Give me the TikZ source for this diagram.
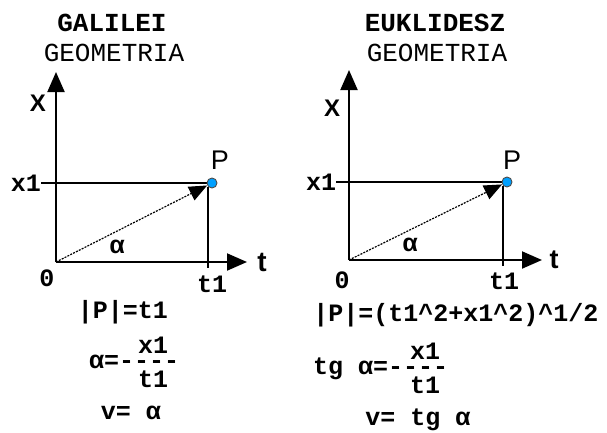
\documentclass[tikz,border=0pt]{standalone}
\usepackage{fontspec}
\setmainfont{Liberation Mono}
\newfontfamily\monof{Liberation Mono}
\newfontfamily\sansf{Liberation Sans}
\usetikzlibrary{arrows.meta,backgrounds}
\begin{document}
\begin{tikzpicture}[x=1pt,y=-1pt,
 title/.style={font=\monof\bfseries\fontsize{26}{26}\selectfont, inner sep=0pt},
 sub/.style={font=\monof\fontsize{26}{26}\selectfont, inner sep=0pt},
 lab/.style={font=\monof\bfseries\fontsize{25}{25}\selectfont, inner sep=0pt},
 bw/.style={lab, anchor=base west},
 axlab/.style={font=\sansf\bfseries\fontsize{24}{24}\selectfont, inner sep=0pt},
 plab/.style={font=\sansf\fontsize{27}{27}\selectfont, inner sep=0pt},
 axis/.style={line width=2pt, -{Triangle[length=20pt,width=17pt]}},
 guide/.style={line width=1.6pt},
 vec/.style={line width=1.2pt, dash pattern=on 2pt off 1.2pt, -{Triangle[length=18pt,width=15pt]}},
 ptdot/.style={circle, fill={rgb,255:red,0;green,160;blue,255}, draw=black!70, line width=0.9pt, minimum size=10pt, inner sep=0pt}
]
\useasboundingbox (0,0) rectangle (607,432);

% ---------------- left: Galilei ----------------
\node[title] (g1) at (112,23) {GALILEI};
\node[sub] (g2) at (114,53) {GEOMETRIA};
\coordinate (O1) at (56,262);
\coordinate (Y1) at (56,72);
\coordinate (T1) at (247,262);
\coordinate (tk1) at (210,268);
\node[ptdot] (P1) at (212,183) {};
\node[axlab] (xl1) at (38,103) {X};
\node[lab] (x1l1) at (26,183) {x1};
\node[plab] (pl1) at (220,160) {P};
\node[lab] (o1) at (47,278) {0};
\node[lab] (t1l1) at (212,284) {t1};
\node[font=\sansf\bfseries\fontsize{28}{28}\selectfont, inner sep=0pt] (tl1) at (262,262) {t};
\node[lab] (al1) at (117,247) {α};
\node[lab] (f1) at (123,312) {|P|=t1};
\node[bw] (f2) at (89,368) {α=-};
\node[bw] (f2a) at (134,368) {-};
\node[bw] (f2b) at (149,368) {-};
\node[bw] (f2c) at (164,368) {-};
\node[lab] (f2n) at (153,345) {x1};
\node[lab] (f2d) at (153,379) {t1};
\node[lab] (f3) at (131,413) {v= α};
\begin{scope}[on background layer]
\draw[axis] (O1) -- (Y1);
\draw[axis] (O1) -- (T1);
\draw[guide] (x1l1.east) -- (P1.center);
\draw[guide] (P1.south west) -- (P1.south west |- tk1);
\draw[vec] (O1) -- (P1);
\end{scope}

% ---------------- right: Euklidesz ----------------
\node[title] (e1) at (435,23) {EUKLIDESZ};
\node[sub] (e2) at (437,53) {GEOMETRIA};
\coordinate (O2) at (349,260);
\coordinate (Y2) at (349,70);
\coordinate (T2) at (542,260);
\coordinate (tk2) at (502,266);
\node[ptdot] (P2) at (507,182) {};
\node[axlab] (xl2) at (332,108) {X};
\node[lab] (x1l2) at (321,182) {x1};
\node[plab] (pl2) at (512,160) {P};
\node[lab] (o2) at (342,280) {0};
\node[lab] (t1l2) at (504,281) {t1};
\node[font=\sansf\bfseries\fontsize{27}{27}\selectfont, inner sep=0pt] (tl2) at (554,260) {t};
\node[lab] (al2) at (410,245) {α};
\node[lab] (h1) at (456,315) {|P|=(t1\string^2+x1\string^2)\string^1/2};
\node[bw] (h2) at (313,374) {tg α=-};
\node[bw] (h2a) at (403,374) {-};
\node[bw] (h2b) at (418,374) {-};
\node[bw] (h2c) at (433,374) {-};
\node[lab] (h2n) at (425,351) {x1};
\node[lab] (h2d) at (425,385) {t1};
\node[lab] (h3) at (418,420) {v= tg α};
\begin{scope}[on background layer]
\draw[axis] (O2) -- (Y2);
\draw[axis] (O2) -- (T2);
\draw[guide] (x1l2.east) -- (P2.center);
\draw[guide] (P2.south west) -- (P2.south west |- tk2);
\draw[vec] (O2) -- (P2);
\end{scope}
\end{tikzpicture}
\end{document}
